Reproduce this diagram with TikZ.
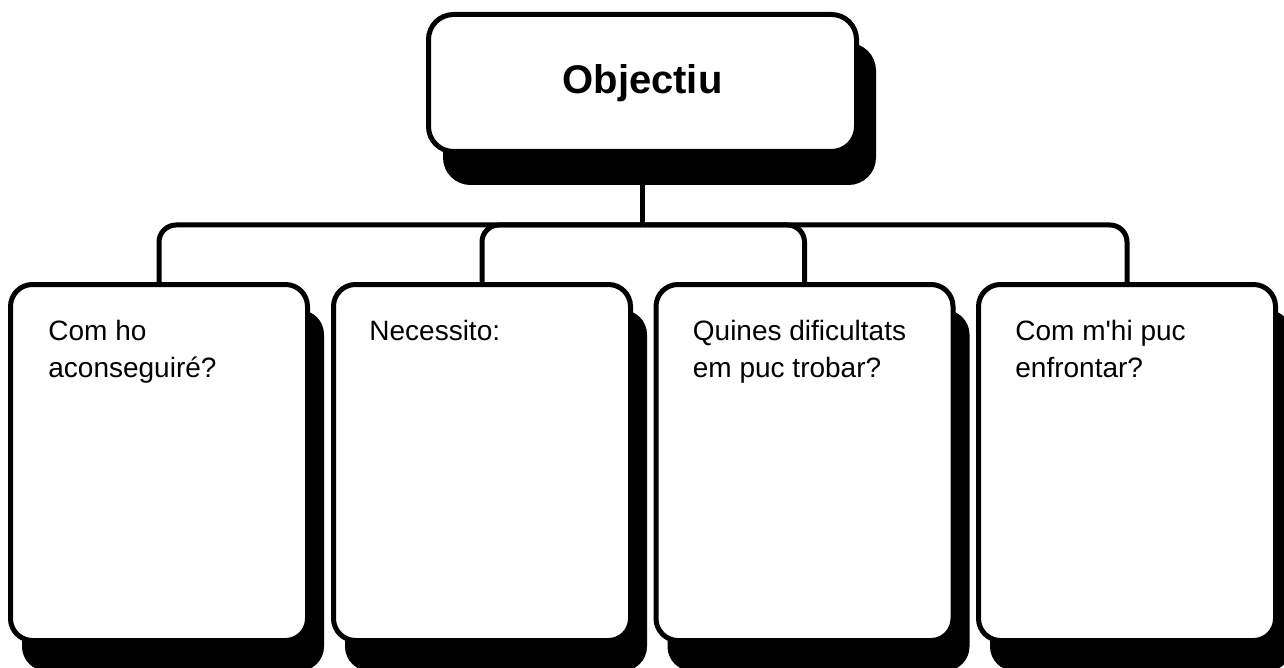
\documentclass[tikz,border=0pt]{standalone}
\usepackage{fontspec}
\setmainfont{Liberation Sans}[Ligatures=TeXOff]
\usetikzlibrary{positioning,shadows}
\tikzset{
  card/.style={draw, line width=2.5pt, rounded corners=11pt, fill=white,
    minimum width=148.5pt, minimum height=178pt, inner sep=0pt,
    drop shadow={shadow xshift=7pt, shadow yshift=-14pt, opacity=1,
      fill=black, draw=black, line width=2.5pt}},
  goalbox/.style={draw, line width=2.5pt, rounded corners=12.5pt, fill=white,
    minimum width=214pt, minimum height=68.5pt, inner sep=0pt,
    drop shadow={shadow xshift=8.5pt, shadow yshift=-15.5pt, opacity=1,
      fill=black, draw=black, line width=2.5pt}},
  goaltext/.style={inner sep=0pt, font=\fontsize{20pt}{24pt}\selectfont\bfseries},
  cardtext/.style={anchor=north west, inner sep=0pt, align=left,
    font=\fontsize{14pt}{18.5pt}\selectfont},
  wire/.style={line width=2.5pt, rounded corners=8.5pt}
}
\begin{document}
\begin{tikzpicture}[x=0.5pt,y=-0.5pt]
\useasboundingbox (0,0) rectangle (1284,668);
\clip (0,0) rectangle (1284,668);
% connectors
\coordinate (bus) at (642.5,225);
\node[goalbox] (goal) at (642.5,83) {};
\draw[wire] (goal.south) -- (bus);
% cards
\node[card] (b1) at (159,462.5) {};
\node[card] (b2) at (482,462.5) {};
\node[card] (b3) at (804.5,462.5) {};
\node[card] (b4) at (1127,462.5) {};
\draw[wire] (bus) -| (b1.north);
\draw[wire] (bus) -| (b2.north);
\draw[wire] (bus) -| (b3.north);
\draw[wire] (bus) -| (b4.north);
% goal on top
\node[goaltext] (title) at (goal.center) {Objectiu};
% texts
\node[cardtext] (t1) at ([xshift=20pt,yshift=-19pt]b1.north west) {Com ho\\aconseguiré?};
\node[cardtext] (t2) at ([xshift=19pt,yshift=-19pt]b2.north west) {Necessito:};
\node[cardtext] (t3) at ([xshift=19.5pt,yshift=-19pt]b3.north west) {Quines dificultats\\em puc trobar?};
\node[cardtext] (t4) at ([xshift=19.5pt,yshift=-19pt]b4.north west) {Com m'hi puc\\enfrontar?};
\end{tikzpicture}
\end{document}
